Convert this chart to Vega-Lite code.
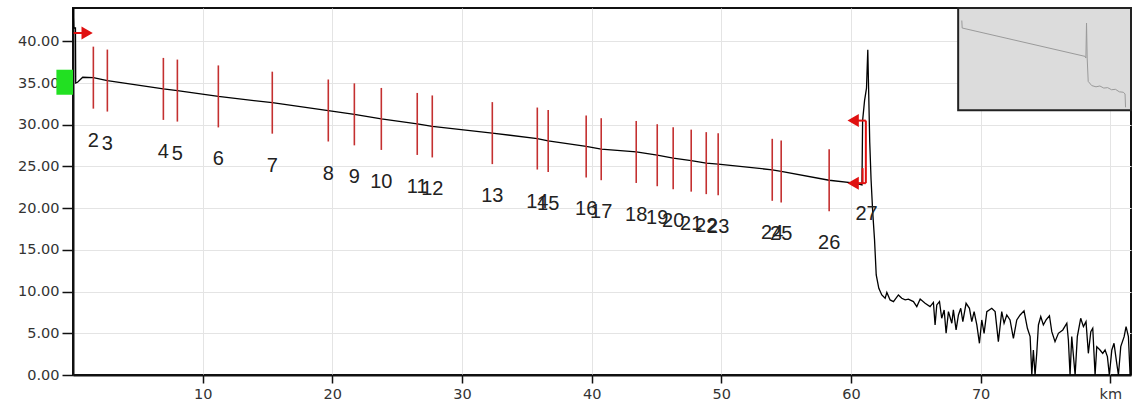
{
  "$schema": "https://vega.github.io/schema/vega-lite/v6.json",
  "width": 1058,
  "height": 367,
  "autosize": "none",
  "padding": {"left": 73, "top": 8, "right": 5, "bottom": 27},
  "background": "white",
  "config": {
    "view": {"stroke": "#111", "strokeWidth": 2},
    "axis": {
      "labelFont": "DejaVu Sans", "labelFontSize": 14.5, "labelColor": "#333",
      "domainColor": "#111", "domainWidth": 2, "tickColor": "#111", "tickWidth": 1.5,
      "gridColor": "#e4e4e4", "gridWidth": 1, "title": null
    }
  },
  "datasets": {
    "trace": [
      {"km":0,"db":44.0},{"km":0.06,"db":41.6},{"km":0.19,"db":41.6},{"km":0.21,"db":35.0},{"km":0.35,"db":35.1},{"km":0.75,"db":35.7},
      {"km":1.57,"db":35.65},{"km":2.65,"db":35.3},{"km":6.97,"db":34.3},{"km":8.05,"db":34.1},{"km":11.21,"db":33.4},{"km":15.37,"db":32.65},
      {"km":19.69,"db":31.7},{"km":21.70,"db":31.25},{"km":23.78,"db":30.7},{"km":26.55,"db":30.1},{"km":27.71,"db":29.8},{"km":32.34,"db":29.0},
      {"km":35.81,"db":28.35},{"km":36.65,"db":28.06},{"km":39.58,"db":27.4},{"km":40.74,"db":27.07},{"km":43.44,"db":26.74},{"km":45.06,"db":26.35},
      {"km":46.29,"db":26.0},{"km":47.68,"db":25.7},{"km":48.84,"db":25.4},{"km":49.76,"db":25.27},{"km":53.93,"db":24.6},{"km":54.62,"db":24.4},
      {"km":58.32,"db":23.35},{"km":60.3,"db":23.0},{"km":60.85,"db":22.8},{"km":60.9,"db":30.5},{"km":61.05,"db":32.9},{"km":61.2,"db":34.4},
      {"km":61.3,"db":39.0},{"km":61.36,"db":34.5},{"km":61.45,"db":27.9},{"km":61.55,"db":23.5},{"km":61.68,"db":19.5},{"km":61.82,"db":16.2},
      {"km":61.95,"db":12.0},{"km":62.15,"db":10.4},{"km":62.38,"db":9.6},{"km":62.64,"db":9.2},{"km":62.77,"db":9.9},{"km":63.02,"db":9.0},
      {"km":63.28,"db":8.8},{"km":63.66,"db":9.6},{"km":63.92,"db":9.2},{"km":64.18,"db":9.0},{"km":64.43,"db":9.1},{"km":64.82,"db":8.8},
      {"km":65.08,"db":8.2},{"km":65.34,"db":9.1},{"km":65.72,"db":8.6},{"km":66.1,"db":8.2},{"km":66.36,"db":8.7},{"km":66.49,"db":6.0},
      {"km":66.62,"db":8.4},{"km":66.83,"db":8.8},{"km":67.0,"db":6.8},{"km":67.19,"db":7.8},{"km":67.34,"db":5.0},{"km":67.52,"db":7.6},
      {"km":67.78,"db":6.2},{"km":67.9,"db":7.8},{"km":68.11,"db":5.4},{"km":68.29,"db":7.2},{"km":68.47,"db":8.0},{"km":68.63,"db":6.4},
      {"km":68.88,"db":8.6},{"km":69.14,"db":8.0},{"km":69.32,"db":6.4},{"km":69.5,"db":7.6},{"km":69.71,"db":6.0},{"km":69.91,"db":3.8},
      {"km":70.09,"db":6.6},{"km":70.27,"db":5.0},{"km":70.48,"db":7.6},{"km":70.86,"db":8.0},{"km":71.12,"db":7.6},{"km":71.37,"db":4.0},
      {"km":71.63,"db":7.6},{"km":71.81,"db":6.2},{"km":72.02,"db":7.2},{"km":72.27,"db":6.6},{"km":72.53,"db":4.4},{"km":72.79,"db":6.6},
      {"km":73.05,"db":7.2},{"km":73.35,"db":7.7},{"km":73.61,"db":5.6},{"km":73.82,"db":4.6},{"km":73.95,"db":0},{"km":74.07,"db":3.0},
      {"km":74.2,"db":0},{"km":74.33,"db":2.6},{"km":74.46,"db":6.0},{"km":74.64,"db":7.0},{"km":74.84,"db":6.0},{"km":75.05,"db":6.6},
      {"km":75.31,"db":7.1},{"km":75.49,"db":5.2},{"km":75.74,"db":4.0},{"km":76.0,"db":5.0},{"km":76.34,"db":5.4},{"km":76.65,"db":6.2},
      {"km":76.77,"db":4.2},{"km":76.9,"db":0},{"km":77.03,"db":4.6},{"km":77.29,"db":0},{"km":77.46,"db":4.6},{"km":77.72,"db":6.8},
      {"km":77.93,"db":5.8},{"km":78.13,"db":6.4},{"km":78.31,"db":2.6},{"km":78.5,"db":5.2},{"km":78.65,"db":5.6},{"km":78.83,"db":0},
      {"km":78.96,"db":3.4},{"km":79.21,"db":3.0},{"km":79.42,"db":2.6},{"km":79.6,"db":3.0},{"km":79.78,"db":2.2},{"km":79.93,"db":0},
      {"km":80.12,"db":3.0},{"km":80.29,"db":3.8},{"km":80.5,"db":1.4},{"km":80.63,"db":0},{"km":80.81,"db":3.4},{"km":81.07,"db":4.6},
      {"km":81.22,"db":5.8},{"km":81.4,"db":4.6},{"km":81.53,"db":0}
    ],
    "events": [
      {"n":"2","km":1.57,"db":35.65,"kind":"splice"},{"n":"3","km":2.65,"db":35.3,"kind":"splice"},
      {"n":"4","km":6.97,"db":34.3,"kind":"splice"},{"n":"5","km":8.05,"db":34.1,"kind":"splice"},
      {"n":"6","km":11.21,"db":33.4,"kind":"splice"},{"n":"7","km":15.37,"db":32.65,"kind":"splice"},
      {"n":"8","km":19.69,"db":31.7,"kind":"splice"},{"n":"9","km":21.70,"db":31.25,"kind":"splice"},
      {"n":"10","km":23.78,"db":30.7,"kind":"splice"},{"n":"11","km":26.55,"db":30.1,"kind":"splice"},
      {"n":"12","km":27.71,"db":29.8,"kind":"splice"},{"n":"13","km":32.34,"db":29.0,"kind":"splice"},
      {"n":"14","km":35.81,"db":28.35,"kind":"splice"},{"n":"15","km":36.65,"db":28.06,"kind":"splice"},
      {"n":"16","km":39.58,"db":27.4,"kind":"splice"},{"n":"17","km":40.74,"db":27.07,"kind":"splice"},
      {"n":"18","km":43.44,"db":26.74,"kind":"splice"},{"n":"19","km":45.06,"db":26.35,"kind":"splice"},
      {"n":"20","km":46.29,"db":26.0,"kind":"splice"},{"n":"21","km":47.68,"db":25.7,"kind":"splice"},
      {"n":"22","km":48.84,"db":25.4,"kind":"splice"},{"n":"23","km":49.76,"db":25.27,"kind":"splice"},
      {"n":"24","km":53.93,"db":24.6,"kind":"splice"},{"n":"25","km":54.62,"db":24.4,"kind":"splice"},
      {"n":"26","km":58.32,"db":23.35,"kind":"splice"},{"n":"27","km":61.2,"db":26.8,"kind":"end"}
    ],
    "arrows": [
      {"km":1.09,"db":41.0,"shape":"triangle-right"},
      {"km":60.17,"db":30.5,"shape":"triangle-left"},
      {"km":60.17,"db":23.0,"shape":"triangle-left"}
    ],
    "redlines": [
      {"km":0.05,"db":41.0,"km2":0.75,"db2":41.0},
      {"km":60.5,"db":30.5,"km2":61.15,"db2":30.5},
      {"km":60.5,"db":23.0,"km2":61.15,"db2":23.0},
      {"km":61.15,"db":23.0,"km2":61.15,"db2":30.5},
      {"km":60.9,"db":23.0,"km2":60.9,"db2":24.8}
    ],
    "inset": [{"km":68.27,"db":31.74,"km2":81.6,"db2":44.0}],
    "insetTrace": [
      {"km":68.55,"db":42.5},{"km":68.58,"db":41.6},{"km":78.06,"db":38.2},{"km":78.12,"db":38.0},{"km":78.17,"db":42.2},
      {"km":78.22,"db":38.0},{"km":78.3,"db":35.2},{"km":78.57,"db":34.7},{"km":78.9,"db":34.55},{"km":79.2,"db":34.65},
      {"km":79.5,"db":34.4},{"km":79.8,"db":34.45},{"km":80.1,"db":34.2},{"km":80.4,"db":34.25},{"km":80.7,"db":33.95},
      {"km":81.0,"db":33.9},{"km":81.14,"db":33.7},{"km":81.18,"db":32.1}
    ],
    "green": [{"km":-1.28,"db":33.6,"km2":0,"db2":36.6}]
  },
  "layer": [
    {
      "data": {"name": "trace"},
      "mark": {"type": "line", "color": "#000", "strokeWidth": 1.3},
      "encoding": {
        "x": {"field": "km", "type": "quantitative",
              "scale": {"domain": [0, 81.6], "nice": false, "zero": false},
              "axis": {"values": [10,20,30,40,50,60,70,80], "tickSize": 8, "labelPadding": 4,
                       "labelExpr": "datum.value == 80 ? 'km' : datum.label", "format": "d"}},
        "y": {"field": "db", "type": "quantitative",
              "scale": {"domain": [0, 44], "nice": false},
              "axis": {"values": [0,5,10,15,20,25,30,35,40], "format": ".2f", "tickSize": 11, "labelPadding": 3}}
      }
    },
    {
      "data": {"name": "inset"},
      "mark": {"type": "rect", "fill": "#dcdcdc", "stroke": "#222", "strokeWidth": 2},
      "encoding": {
        "x": {"field": "km", "type": "quantitative"}, "x2": {"field": "km2"},
        "y": {"field": "db", "type": "quantitative"}, "y2": {"field": "db2"}
      }
    },
    {
      "data": {"name": "insetTrace"},
      "mark": {"type": "line", "color": "#9a9a9a", "strokeWidth": 1},
      "encoding": {
        "x": {"field": "km", "type": "quantitative"},
        "y": {"field": "db", "type": "quantitative"}
      }
    },
    {
      "data": {"name": "green"},
      "mark": {"type": "rect", "fill": "#22e022"},
      "encoding": {
        "x": {"field": "km", "type": "quantitative"}, "x2": {"field": "km2"},
        "y": {"field": "db", "type": "quantitative"}, "y2": {"field": "db2"}
      }
    },
    {
      "data": {"name": "events"},
      "transform": [{"filter": "datum.kind == 'splice'"}],
      "mark": {"type": "tick", "orient": "vertical", "size": 62, "thickness": 1.6, "color": "#c43030", "opacity": 1},
      "encoding": {
        "x": {"field": "km", "type": "quantitative"},
        "y": {"field": "db", "type": "quantitative"}
      }
    },
    {
      "data": {"name": "events"},
      "mark": {"type": "text", "dy": 63, "font": "Liberation Sans", "fontSize": 20, "color": "#222", "baseline": "middle", "align": "center"},
      "encoding": {
        "x": {"field": "km", "type": "quantitative"},
        "y": {"field": "db", "type": "quantitative"},
        "text": {"field": "n"}
      }
    },
    {
      "data": {"name": "redlines"},
      "mark": {"type": "rule", "color": "#e01010", "strokeWidth": 2},
      "encoding": {
        "x": {"field": "km", "type": "quantitative"}, "x2": {"field": "km2"},
        "y": {"field": "db", "type": "quantitative"}, "y2": {"field": "db2"}
      }
    },
    {
      "data": {"name": "arrows"},
      "mark": {"type": "point", "filled": true, "color": "#e01010", "size": 170, "opacity": 1},
      "encoding": {
        "x": {"field": "km", "type": "quantitative"},
        "y": {"field": "db", "type": "quantitative"},
        "shape": {"field": "shape", "type": "nominal", "scale": null, "legend": null}
      }
    }
  ]
}
